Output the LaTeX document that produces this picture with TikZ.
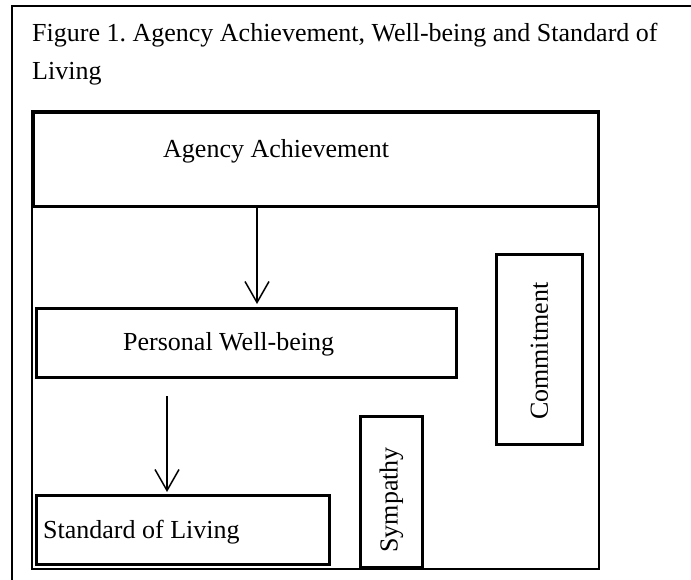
\documentclass[tikz,border=0pt]{standalone}
\usepackage{fontspec}
\setmainfont{Liberation Serif}
\usepackage{tikz}
\usetikzlibrary{arrows.meta,positioning}
\frenchspacing
\tikzset{
  % 文字样式
  txt/.style={inner sep=0pt, font=\fontsize{26}{31}\selectfont},
  % 基础盒子
  box/.style={
    draw,
    line width=2.6pt,
    inner sep=0pt,
    anchor=north west
  },
  % 箭头样式
  arr/.style={-{Straight Barb[length=21pt, width=24pt]}, line width=1.5pt},
}
\begin{document}
\begin{tikzpicture}[x=1pt, y=-1pt]
    \path[use as bounding box, clip] (0,0) rectangle (691,580);

    % 外框与标题
    \draw[line width=2pt] (12,6) rectangle (700,590);
    \node[txt, anchor=base west] (title1) at (32,42) {Figure 1. Agency Achievement, Well-being and Standard of};
    \node[txt, anchor=base west] (title2) at (32,80) {Living};

    % 内框
    \draw[line width=2.6pt] (32,111) rectangle (599,569);

    % 盒子
    \node[box, minimum width=565pt, minimum height=94pt] (agency) at (32,111) {};
    \node[box, minimum width=420pt, minimum height=69pt] (wellbeing) at (35,307) {};
    \node[box, minimum width=293pt, minimum height=69pt] (living) at (35,494) {};
    \node[box, minimum width=62pt, minimum height=151pt] (sympathy) at (359,415) {};
    \node[box, minimum width=86pt, minimum height=190pt] (commitment) at (495,253) {};

    % 文字
    \node[txt, anchor=base west] (agencytxt) at (163,158) {Agency Achievement};
    \node[txt, anchor=base west] (wellbeingtxt) at (123,350) {Personal Well-being};
    \node[txt, anchor=base west] (livingtxt) at (43,538) {Standard of Living};
    \node[txt, rotate=90] (sympathytxt) at ([yshift=-8pt]sympathy.center) {Sympathy};
    \node[txt, rotate=90] (commitmenttxt) at ([yshift=-2pt]commitment.center) {Commitment};

    % 箭头
    \coordinate (a1) at (257,0);
    \coordinate (a2) at (167,396);
    \draw[arr, shorten >=3pt] (a1 |- agency.south) -- (a1 |- wellbeing.north);
    \draw[arr, shorten >=2pt] (a2) -- (a2 |- living.north);
\end{tikzpicture}
\end{document}
